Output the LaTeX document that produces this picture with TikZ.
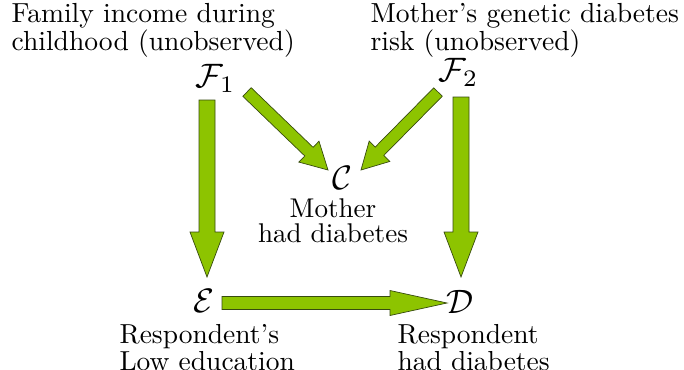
\documentclass[tikz,border=0pt]{standalone}
\usetikzlibrary{calc}
\definecolor{agreen}{RGB}{141,196,0}
\definecolor{aline}{RGB}{55,75,15}
\tikzset{
  lbl/.style={scale=2.77, align=left, inner sep=0pt, font=\fontsize{10}{10.1}\selectfont},
  lblc/.style={scale=2.72, align=center, inner sep=0pt, font=\fontsize{10}{9.1}\selectfont},
  lbls/.style={scale=2.76, align=left, inner sep=0pt, font=\fontsize{10}{8.5}\selectfont},
  mth/.style={scale=3.4, inner sep=0pt},
  arrowbody/.style={draw=aline, fill=agreen, line width=0.7pt, line join=miter}
}
% #1 shaft half width, #2 head half width, #3 head length, #4 tail, #5 tip
\newcommand\blockarr[5]{%
  \draw[arrowbody] let \p1=(#4), \p2=(#5),
    \n1={atan2(\y2-\y1,\x2-\x1)}, \n2={veclen(\x2-\x1,\y2-\y1)} in
    ($(#4)+(\n1+90:#1)$)
    -- ($(#4)+(\n1:{\n2-#3})+(\n1+90:#1)$)
    -- ($(#4)+(\n1:{\n2-#3})+(\n1+90:#2)$)
    -- (#5)
    -- ($(#4)+(\n1:{\n2-#3})+(\n1-90:#2)$)
    -- ($(#4)+(\n1:{\n2-#3})+(\n1-90:#1)$)
    -- ($(#4)+(\n1-90:#1)$) -- cycle;}
\begin{document}
\begin{tikzpicture}[x=1bp,y=-1bp]
\useasboundingbox (0,0) rectangle (684,369);
% labels
\node[lbl, anchor=north west] (t1) at (11,3) {Family income during\\childhood (unobserved)};
\node[lbl, anchor=north west] (t2) at (370,3) {Mother's genetic diabetes\\risk (unobserved)};
\node[mth, anchor=base west] (F1) at (195,87) {$\mathcal{F}_1$};
\node[mth, anchor=base west] (F2) at (438,81) {$\mathcal{F}_2$};
\node[mth, anchor=base west] (C) at (332,189) {$\mathcal{C}$};
\node[mth, anchor=base west] (E) at (193,312) {$\mathcal{E}$};
\node[mth, anchor=base west] (D) at (446,313) {$\mathcal{D}$};
\node[lblc, anchor=north] (tc) at (333,198) {Mother\\had diabetes};
\node[lbls, anchor=north west] (te) at (119,324) {Respondent's\\Low education};
\node[lbls, anchor=north west] (td) at (397,324) {Respondent\\had diabetes};
% arrow end points
\coordinate (a1s) at (207,100); \coordinate (a1e) at (207,277);
\coordinate (a2s) at (461,97);  \coordinate (a2e) at (461,277);
\coordinate (a3s) at (222,303); \coordinate (a3e) at (447,303);
\coordinate (a4s) at (247,92);  \coordinate (a4e) at (328,170);
\coordinate (a5s) at (438,92);  \coordinate (a5e) at (361,170);
\blockarr{8bp}{17bp}{45bp}{a1s}{a1e}
\blockarr{8bp}{17bp}{45bp}{a2s}{a2e}
\blockarr{6.5bp}{12.5bp}{57bp}{a3s}{a3e}
\blockarr{6bp}{14.5bp}{26bp}{a4s}{a4e}
\blockarr{6bp}{14.5bp}{26bp}{a5s}{a5e}
\end{tikzpicture}
\end{document}
